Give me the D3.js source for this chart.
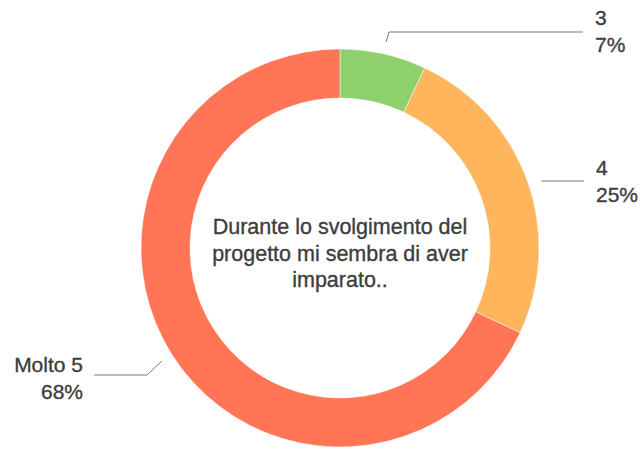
<!DOCTYPE html>
<html>
<head>
<meta charset="utf-8">
<script src="https://cdn.jsdelivr.net/npm/d3@7"></script>
<style>
  body { margin: 0; background: #fff; }
  svg text { font-family: "Liberation Sans", Arial, Helvetica, sans-serif; fill: #3d3d3d; stroke: #3d3d3d; stroke-width: 0.35px; }
</style>
</head>
<body>
<div id="chart"></div>
<script>
const labels = ["3", "4", "Molto 5"];
const percents = [7, 25, 68];
const colours = ["#8ed06b", "#ffb55c", "#ff7556"];
const title = ["Durante lo svolgimento del", "progetto mi sembra di aver", "imparato.."];

const width = 640, height = 450;
const cx = 340, cy = 248;
const outerR = 199, innerR = 150;

const svg = d3.select("#chart").append("svg")
    .attr("width", width)
    .attr("height", height);

const g = svg.append("g")
    .attr("transform", `translate(${cx}, ${cy})`);

const pie = d3.pie().sort(null).value(d => d);
const arcs = pie(percents);

const arc = d3.arc().innerRadius(innerR).outerRadius(outerR);

g.selectAll("path.slice")
    .data(arcs)
    .join("path")
    .attr("class", "slice")
    .attr("d", arc)
    .attr("fill", (d, i) => colours[i])
    .attr("stroke", "#fff")
    .attr("stroke-width", 0.5);

// leader lines: start just outside the ring at the slice's mid angle
const labelArc = d3.arc().innerRadius(outerR + 12).outerRadius(outerR + 12);
const leaders = [
    {pts: p => [p, [p[0] + 3, -216], [243, -216]], tx: 255, ty: -223, anchor: "start"},
    {pts: p => [[p[0] + 3, -67], [244, -67]], tx: 256, ty: -73, anchor: "start"},
    {pts: p => [p, [-193, 127], [-246, 127]], tx: -257, ty: 124, anchor: "end"}
];

arcs.forEach((d, i) => {
    const c = labelArc.centroid(d);
    const L = leaders[i];
    g.append("path")
        .attr("d", d3.line()(L.pts(c)))
        .attr("fill", "none")
        .attr("stroke", "#777")
        .attr("stroke-width", 1);
    const t = g.append("text")
        .attr("x", L.tx)
        .attr("y", L.ty)
        .attr("text-anchor", L.anchor)
        .style("font-size", "21px");
    t.append("tspan").attr("x", L.tx).text(labels[i]);
    t.append("tspan").attr("x", L.tx).attr("dy", 27).text(percents[i] + "%");
});

g.append("text")
    .attr("text-anchor", "middle")
    .style("font-size", "21.5px")
    .selectAll("tspan")
    .data(title)
    .join("tspan")
    .attr("x", 0)
    .attr("y", (d, i) => -14 + i * 26.5)
    .text(d => d);
</script>
</body>
</html>
